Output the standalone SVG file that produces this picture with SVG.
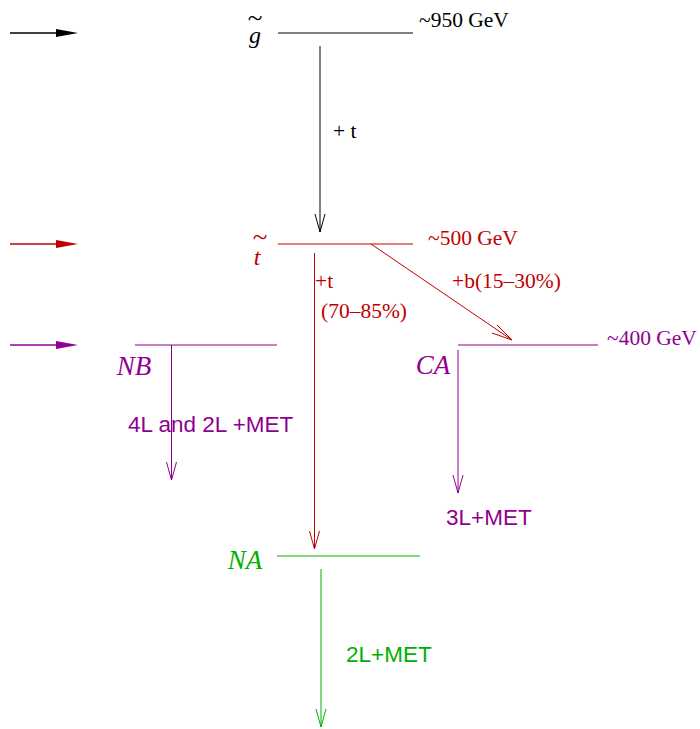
<svg xmlns="http://www.w3.org/2000/svg" width="700" height="729" viewBox="0 0 700 729">
<style>
.serif{font-family:"Liberation Serif","Times New Roman",serif;font-size:21.5px}
.it{font-family:"Liberation Serif","Times New Roman",serif;font-style:italic;font-size:27px}
.gl{font-family:"Liberation Serif","Times New Roman",serif;font-style:italic;font-size:24px}
.tl{font-family:"Liberation Serif","Times New Roman",serif;font-size:27px}
.sans{font-family:"Liberation Sans",Arial,sans-serif;font-size:22.5px}
.k{stroke:#000;fill:none;stroke-width:1}
.r{stroke:#c00000;fill:none;stroke-width:1}
.p{stroke:#900090;fill:none;stroke-width:1}
.g{stroke:#00b000;fill:none;stroke-width:1}
</style>
<g id="inputs">
<path d="M10,33 H56" stroke="#000" stroke-width="1.3"/><path d="M56,29 L78,33 L56,37 Z" fill="#000"/>
<path d="M10,244 H56" stroke="#c00000" stroke-width="1.3"/><path d="M56,240 L78,244 L56,248 Z" fill="#c00000"/>
<path d="M10,345 H56" stroke="#900090" stroke-width="1.3"/><path d="M56,341 L78,345 L56,349 Z" fill="#900090"/>
</g>
<g id="gluino">
<line class="k" x1="278" y1="33" x2="413" y2="33"/>
<text class="tl" x="255" y="27" text-anchor="middle">~</text>
<text class="gl" x="255" y="43" text-anchor="middle">g</text>
<text class="serif" x="419" y="27" fill="#000">~950 GeV</text>
</g>
<g id="stop">
<line class="r" x1="278" y1="244" x2="413" y2="244"/>
<text class="tl" x="260" y="246" text-anchor="middle" fill="#c00000">~</text>
<text class="gl" x="257" y="265" text-anchor="middle" fill="#c00000">t</text>
<text class="serif" x="428" y="245" fill="#c00000">~500 GeV</text>
</g>
<g id="NB">
<line class="p" x1="135" y1="345" x2="277" y2="345"/>
<text class="it" x="134" y="375" text-anchor="middle" fill="#900090">NB</text>
</g>
<g id="CA">
<line class="p" x1="458" y1="345" x2="598" y2="345"/>
<text class="it" x="433" y="374" text-anchor="middle" fill="#900090">CA</text>
<text class="serif" x="607" y="345" fill="#900090">~400 GeV</text>
</g>
<g id="NA">
<line class="g" x1="277" y1="556" x2="420" y2="556"/>
<text class="it" x="245" y="569" text-anchor="middle" fill="#00b000">NA</text>
</g>
<g id="connectors">
<line class="k" x1="320" y1="46" x2="320" y2="232"/>
<path class="k" d="M315,214 L320,232 L325,214"/>
<text class="serif" x="333" y="138">+ t</text>
<line class="r" x1="314.5" y1="253" x2="314.5" y2="549"/>
<path class="r" d="M309.5,531 L314.5,549 L319.5,531"/>
<text class="serif" x="315" y="288" fill="#c00000">+t</text>
<text class="serif" x="321" y="318" fill="#c00000">(70–85%)</text>
<line class="r" x1="371" y1="244" x2="512" y2="340"/>
<path class="r" d="M497,325 L512,340 L492,333"/>
<text class="serif" x="452" y="288" fill="#c00000">+b(15–30%)</text>
<line class="p" x1="171.5" y1="345" x2="171.5" y2="480"/>
<path class="p" d="M166.5,462 L171.5,480 L176.5,462"/>
<text class="sans" x="128" y="432" fill="#900090">4L and 2L +MET</text>
<line class="p" x1="458" y1="350" x2="458" y2="493"/>
<path class="p" d="M453,475 L458,493 L463,475"/>
<text class="sans" x="446" y="525" fill="#900090">3L+MET</text>
<line class="g" x1="321" y1="569" x2="321" y2="727"/>
<path class="g" d="M316,709 L321,727 L326,709"/>
<text class="sans" x="346" y="662" fill="#00b000">2L+MET</text>
</g>
</svg>
